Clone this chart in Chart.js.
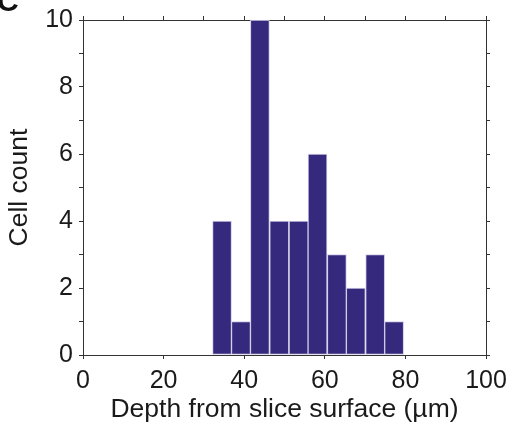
<!DOCTYPE html>
<html>
<head>
<meta charset="utf-8">
<script src="https://cdn.jsdelivr.net/npm/chart.js@4"></script>
<style>
    html, body { margin: 0; padding: 0; background: #fff; }
    #wrap { width: 510px; height: 430px; }
</style>
</head>
<body>
<div id="wrap"><canvas id="chart" width="510" height="430"></canvas></div>
<script>
    // bin centres (µm) and counts
    const binCenters = [34.5, 39.2, 43.9, 48.7, 53.5, 58.2, 63.0, 67.7, 72.5, 77.2];
    const cellCounts = [4, 1, 10, 4, 4, 6, 3, 2, 3, 1];
    const xLabels = [0, 20, 40, 60, 80, 100];
    const yLabels = [0, 2, 4, 6, 8, 10];

    const FONT = "'Liberation Sans', Arial, sans-serif";
    const AXIS = '#333333';
    const TEXT = '#1a1a1a';

    // panel letter, mostly cut off at the top left
    const panelLetter = {
        id: 'panelLetter',
        afterDraw(chart) {
            const ctx = chart.ctx;
            ctx.save();
            ctx.font = 'bold 30px ' + FONT;
            ctx.fillStyle = '#111';
            ctx.textBaseline = 'alphabetic';
            ctx.textAlign = 'left';
            ctx.fillText('C', -3, 11);
            ctx.restore();
        }
    };

    function sideAxis(position, size) {
        return {
            type: 'linear',
            position: position,
            offset: false,
            min: 0,
            max: position === 'top' ? 100 : 10,
            ticks: { display: false, stepSize: position === 'top' ? 10 : 1 },
            grid: { drawOnChartArea: false, offset: false, tickLength: 4, color: AXIS, tickColor: AXIS },
            border: { display: true, color: AXIS, width: 1 },
            afterFit(scale) {
                if (position === 'top') scale.height = size; else scale.width = size;
                scale.paddingLeft = scale.paddingRight = 0;
                scale.paddingTop = scale.paddingBottom = 0;
            }
        };
    }

    new Chart(document.getElementById('chart').getContext('2d'), {
        type: 'bar',
        data: {
            datasets: [{
                data: binCenters.map((c, i) => ({ x: c, y: cellCounts[i] })),
                backgroundColor: '#35297d',
                borderColor: '#cfcbe6',
                borderWidth: 1,
                borderSkipped: false,
                barPercentage: 1,
                categoryPercentage: 1
            }]
        },
        options: {
            responsive: false,
            animation: false,
            layout: { padding: 0 },
            plugins: { legend: { display: false }, tooltip: { enabled: false } },
            scales: {
                x: {
                    type: 'linear',
                    position: 'bottom',
                    offset: false,
                    min: 0,
                    max: 100,
                    ticks: {
                        stepSize: 10,
                        color: TEXT,
                        font: { family: FONT, size: 25 },
                        padding: 7,
                        maxRotation: 0,
                        callback: v => xLabels.includes(v) ? String(v) : ''
                    },
                    grid: { drawOnChartArea: false, offset: false, tickLength: 4, color: AXIS, tickColor: AXIS },
                    border: { display: true, color: AXIS, width: 1 },
                    title: {
                        display: true,
                        text: 'Depth from slice surface (µm)',
                        color: TEXT,
                        font: { family: FONT, size: 26.5 },
                        padding: { top: 0, bottom: 4 }
                    },
                    afterFit(scale) {
                        scale.height = 75;
                        scale.paddingLeft = scale.paddingRight = 0;
                    }
                },
                y: {
                    type: 'linear',
                    position: 'left',
                    min: 0,
                    max: 10,
                    ticks: {
                        stepSize: 1,
                        color: TEXT,
                        font: { family: FONT, size: 25 },
                        padding: 6,
                        callback: v => yLabels.includes(v) ? String(v) : ''
                    },
                    grid: { drawOnChartArea: false, tickLength: 4, color: AXIS, tickColor: AXIS },
                    border: { display: true, color: AXIS, width: 1 },
                    title: {
                        display: true,
                        text: 'Cell count',
                        color: TEXT,
                        font: { family: FONT, size: 26.5 },
                        padding: { top: 4, bottom: 0 }
                    },
                    afterFit(scale) {
                        scale.width = 83;
                        scale.paddingTop = scale.paddingBottom = 0;
                    }
                },
                x2: sideAxis('top', 20),
                y2: sideAxis('right', 24)
            }
        },
        plugins: [panelLetter]
    });
</script>
</body>
</html>
